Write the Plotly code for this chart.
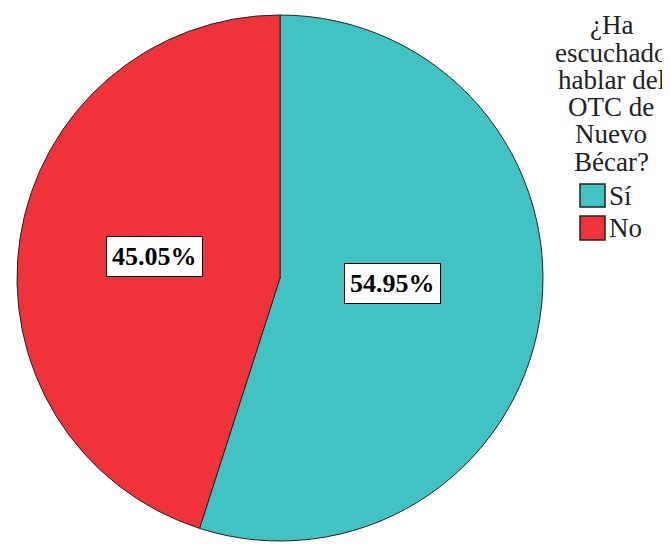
import plotly.graph_objects as go

labels = ["Sí", "No"]
values = [54.95, 45.05]
colors = ["#42C2C3", "#F0333B"]
label_texts = ["54.95%", "45.05%"]
legend_title_lines = ["¿Ha", "escuchado", "hablar del", "OTC de", "Nuevo", "Bécar?"]

# page body has an 8px default margin, so the figure is a bit smaller than the window
OFF = 8
W, H = 670 - OFF, 544 - OFF
FONT = "Liberation Serif"

def px(x):
    return (x - OFF) / W

def py(y):
    return 1 - (y - OFF) / H

fig = go.Figure()
cx, cy, r = 280, 278, 263
fig.add_trace(go.Pie(
    labels=labels, values=values, sort=False, direction="clockwise", rotation=0,
    marker=dict(colors=colors, line=dict(color="#222222", width=1)),
    textinfo="none", hoverinfo="label+percent", showlegend=False,
    domain=dict(x=[px(cx - r), px(cx + r)], y=[py(cy + r), py(cy - r)]),
))

# boxed percentage labels
label_pos = [(392, 283), (154, 256)]
for t, (x, y) in zip(label_texts, label_pos):
    fig.add_annotation(
        x=px(x), y=py(y), xref="paper", yref="paper", text="<b>" + t + "</b>",
        showarrow=False, font=dict(family=FONT, size=26, color="black"),
        bgcolor="white", bordercolor="black", borderwidth=1, borderpad=5,
        xanchor="center", yanchor="middle",
    )

# legend title (centered lines)
title_y = [25, 53, 80, 107, 134, 162]
for line, y in zip(legend_title_lines, title_y):
    fig.add_annotation(
        x=px(611), y=py(y), xref="paper", yref="paper", text=line,
        showarrow=False, font=dict(family=FONT, size=27, color="#222"),
        xanchor="center", yanchor="middle",
    )

# legend entries
entry_y = [(184, 207), (216, 240)]
for lab, col, (y0, y1) in zip(labels, colors, entry_y):
    fig.add_shape(type="rect", xref="paper", yref="paper",
                  x0=px(580), x1=px(605), y0=py(y1), y1=py(y0),
                  fillcolor=col, line=dict(color="#222", width=1.5))
    fig.add_annotation(
        x=px(607), y=py((y0 + y1) / 2), xref="paper", yref="paper", text=lab,
        showarrow=False, font=dict(family=FONT, size=27, color="#222"),
        xanchor="left", yanchor="middle",
    )

fig.update_layout(
    width=W, height=H, margin=dict(l=0, r=0, t=0, b=0),
    paper_bgcolor="white", plot_bgcolor="white",
    showlegend=False,
)
fig.write_html("out.html")
